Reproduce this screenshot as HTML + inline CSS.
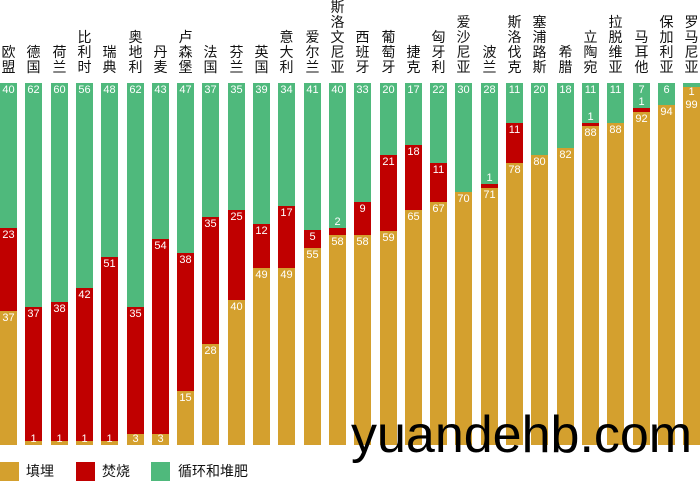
<!DOCTYPE html>
<html><head><meta charset="utf-8"><style>
body{margin:0;width:700px;height:484px;background:#fff;position:relative;overflow:hidden;font-family:"Liberation Sans","Noto Sans CJK SC",sans-serif}
.bar{position:absolute;top:83px;height:362px;width:17px;display:flex;flex-direction:column}
.bar div{position:relative;flex-basis:0;min-height:0}
.g{background:#4fb97c}.r{background:#c00000}.o{background:#d4a02e}
.bar span{position:absolute;left:0;right:0;top:1px;text-align:center;color:#fff;font-size:11px;line-height:12px}
.bar span.b{top:auto;bottom:0}
.bar span.a{top:auto;bottom:100%}
.n{position:absolute;bottom:409px;width:17px;text-align:center;font-size:14px;line-height:15px;color:#111}
.lg{position:absolute;top:462px;width:19px;height:19px}
.lt{position:absolute;top:461px;font-size:14px;line-height:20px;color:#111}
.wm{position:absolute;left:351px;top:409px;font-size:52px;line-height:52px;color:#000}
</style></head><body>
<div class="n" style="left:0px">欧<br>盟</div>
<div class="n" style="left:25px">德<br>国</div>
<div class="n" style="left:51px">荷<br>兰</div>
<div class="n" style="left:76px">比<br>利<br>时</div>
<div class="n" style="left:101px">瑞<br>典</div>
<div class="n" style="left:127px">奥<br>地<br>利</div>
<div class="n" style="left:152px">丹<br>麦</div>
<div class="n" style="left:177px">卢<br>森<br>堡</div>
<div class="n" style="left:202px">法<br>国</div>
<div class="n" style="left:228px">芬<br>兰</div>
<div class="n" style="left:253px">英<br>国</div>
<div class="n" style="left:278px">意<br>大<br>利</div>
<div class="n" style="left:304px">爱<br>尔<br>兰</div>
<div class="n" style="left:329px">斯<br>洛<br>文<br>尼<br>亚</div>
<div class="n" style="left:354px">西<br>班<br>牙</div>
<div class="n" style="left:380px">葡<br>萄<br>牙</div>
<div class="n" style="left:405px">捷<br>克</div>
<div class="n" style="left:430px">匈<br>牙<br>利</div>
<div class="n" style="left:455px">爱<br>沙<br>尼<br>亚</div>
<div class="n" style="left:481px">波<br>兰</div>
<div class="n" style="left:506px">斯<br>洛<br>伐<br>克</div>
<div class="n" style="left:531px">塞<br>浦<br>路<br>斯</div>
<div class="n" style="left:557px">希<br>腊</div>
<div class="n" style="left:582px">立<br>陶<br>宛</div>
<div class="n" style="left:607px">拉<br>脱<br>维<br>亚</div>
<div class="n" style="left:633px">马<br>耳<br>他</div>
<div class="n" style="left:658px">保<br>加<br>利<br>亚</div>
<div class="n" style="left:683px">罗<br>马<br>尼<br>亚</div>

<div class="bar" style="left:0px"><div class="g" style="flex-grow:40"><span>40</span></div><div class="r" style="flex-grow:23"><span>23</span></div><div class="o" style="flex-grow:37"><span>37</span></div></div>
<div class="bar" style="left:25px"><div class="g" style="flex-grow:62"><span>62</span></div><div class="r" style="flex-grow:37"><span>37</span></div><div class="o" style="flex-grow:1"><span class="b">1</span></div></div>
<div class="bar" style="left:51px"><div class="g" style="flex-grow:60"><span>60</span></div><div class="r" style="flex-grow:38"><span>38</span></div><div class="o" style="flex-grow:1"><span class="b">1</span></div></div>
<div class="bar" style="left:76px"><div class="g" style="flex-grow:56"><span>56</span></div><div class="r" style="flex-grow:42"><span>42</span></div><div class="o" style="flex-grow:1"><span class="b">1</span></div></div>
<div class="bar" style="left:101px"><div class="g" style="flex-grow:48"><span>48</span></div><div class="r" style="flex-grow:51"><span>51</span></div><div class="o" style="flex-grow:1"><span class="b">1</span></div></div>
<div class="bar" style="left:127px"><div class="g" style="flex-grow:62"><span>62</span></div><div class="r" style="flex-grow:35"><span>35</span></div><div class="o" style="flex-grow:3"><span class="b">3</span></div></div>
<div class="bar" style="left:152px"><div class="g" style="flex-grow:43"><span>43</span></div><div class="r" style="flex-grow:54"><span>54</span></div><div class="o" style="flex-grow:3"><span class="b">3</span></div></div>
<div class="bar" style="left:177px"><div class="g" style="flex-grow:47"><span>47</span></div><div class="r" style="flex-grow:38"><span>38</span></div><div class="o" style="flex-grow:15"><span>15</span></div></div>
<div class="bar" style="left:202px"><div class="g" style="flex-grow:37"><span>37</span></div><div class="r" style="flex-grow:35"><span>35</span></div><div class="o" style="flex-grow:28"><span>28</span></div></div>
<div class="bar" style="left:228px"><div class="g" style="flex-grow:35"><span>35</span></div><div class="r" style="flex-grow:25"><span>25</span></div><div class="o" style="flex-grow:40"><span>40</span></div></div>
<div class="bar" style="left:253px"><div class="g" style="flex-grow:39"><span>39</span></div><div class="r" style="flex-grow:12"><span>12</span></div><div class="o" style="flex-grow:49"><span>49</span></div></div>
<div class="bar" style="left:278px"><div class="g" style="flex-grow:34"><span>34</span></div><div class="r" style="flex-grow:17"><span>17</span></div><div class="o" style="flex-grow:49"><span>49</span></div></div>
<div class="bar" style="left:304px"><div class="g" style="flex-grow:41"><span>41</span></div><div class="r" style="flex-grow:5"><span>5</span></div><div class="o" style="flex-grow:55"><span>55</span></div></div>
<div class="bar" style="left:329px"><div class="g" style="flex-grow:40"><span>40</span></div><div class="r" style="flex-grow:2"><span class="a">2</span></div><div class="o" style="flex-grow:58"><span>58</span></div></div>
<div class="bar" style="left:354px"><div class="g" style="flex-grow:33"><span>33</span></div><div class="r" style="flex-grow:9"><span>9</span></div><div class="o" style="flex-grow:58"><span>58</span></div></div>
<div class="bar" style="left:380px"><div class="g" style="flex-grow:20"><span>20</span></div><div class="r" style="flex-grow:21"><span>21</span></div><div class="o" style="flex-grow:59"><span>59</span></div></div>
<div class="bar" style="left:405px"><div class="g" style="flex-grow:17"><span>17</span></div><div class="r" style="flex-grow:18"><span>18</span></div><div class="o" style="flex-grow:65"><span>65</span></div></div>
<div class="bar" style="left:430px"><div class="g" style="flex-grow:22"><span>22</span></div><div class="r" style="flex-grow:11"><span>11</span></div><div class="o" style="flex-grow:67"><span>67</span></div></div>
<div class="bar" style="left:455px"><div class="g" style="flex-grow:30"><span>30</span></div><div class="o" style="flex-grow:70"><span>70</span></div></div>
<div class="bar" style="left:481px"><div class="g" style="flex-grow:28"><span>28</span></div><div class="r" style="flex-grow:1"><span class="a">1</span></div><div class="o" style="flex-grow:71"><span>71</span></div></div>
<div class="bar" style="left:506px"><div class="g" style="flex-grow:11"><span>11</span></div><div class="r" style="flex-grow:11"><span>11</span></div><div class="o" style="flex-grow:78"><span>78</span></div></div>
<div class="bar" style="left:531px"><div class="g" style="flex-grow:20"><span>20</span></div><div class="o" style="flex-grow:80"><span>80</span></div></div>
<div class="bar" style="left:557px"><div class="g" style="flex-grow:18"><span>18</span></div><div class="o" style="flex-grow:82"><span>82</span></div></div>
<div class="bar" style="left:582px"><div class="g" style="flex-grow:11"><span>11</span></div><div class="r" style="flex-grow:1"><span class="a">1</span></div><div class="o" style="flex-grow:88"><span>88</span></div></div>
<div class="bar" style="left:607px"><div class="g" style="flex-grow:11"><span>11</span></div><div class="o" style="flex-grow:88"><span>88</span></div></div>
<div class="bar" style="left:633px"><div class="g" style="flex-grow:7"><span>7</span></div><div class="r" style="flex-grow:1"><span class="a">1</span></div><div class="o" style="flex-grow:92"><span>92</span></div></div>
<div class="bar" style="left:658px"><div class="g" style="flex-grow:6"><span>6</span></div><div class="o" style="flex-grow:94"><span>94</span></div></div>
<div class="bar" style="left:683px"><div class="g" style="flex-grow:1"></div><div class="o" style="flex-grow:99"><span style="top:-1px">1</span><span style="top:12px">99</span></div></div>

<div class="wm">yuandehb.com</div>
<div class="lg o" style="left:0"></div><div class="lt" style="left:26px">填埋</div>
<div class="lg r" style="left:76px"></div><div class="lt" style="left:102px">焚烧</div>
<div class="lg g" style="left:151px"></div><div class="lt" style="left:178px">循环和堆肥</div>
</body></html>
